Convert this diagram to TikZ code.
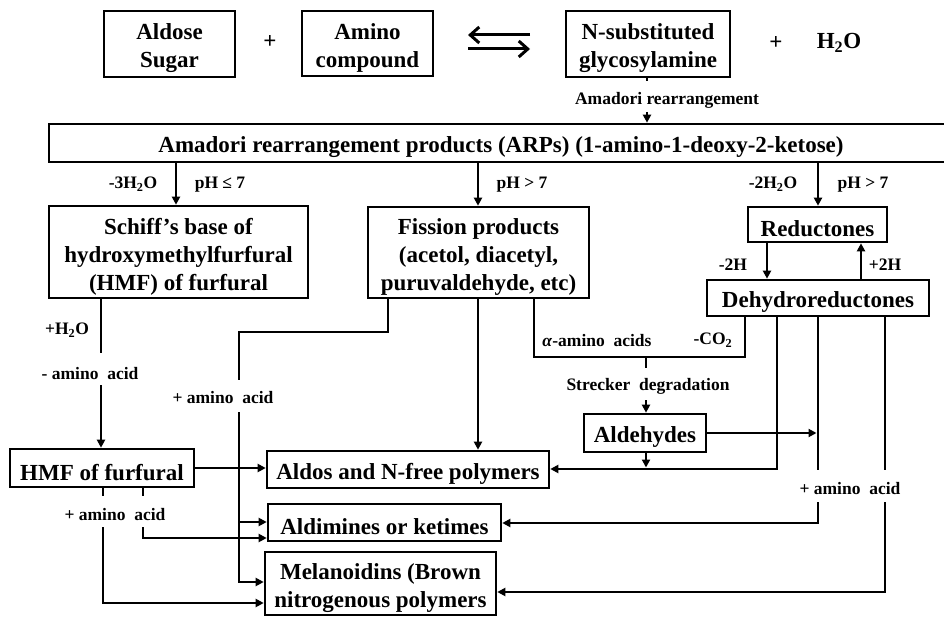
\documentclass[tikz,border=0pt]{standalone}
\usepackage{fontspec}
\setmainfont{Liberation Serif}
\usetikzlibrary{arrows.meta}
\begin{document}
\begin{tikzpicture}[x=1pt,y=-1pt,
  box/.style={draw, line width=2.6pt, inner sep=0pt},
  boxtxt/.style={align=center, inner sep=0pt, yshift=-4.5pt, font=\bfseries\fontsize{23}{28}\selectfont},
  lbl/.style={inner sep=0pt, yshift=-1.5pt, font=\bfseries\fontsize{17.5}{20}\selectfont},
  big/.style={inner sep=0pt, font=\bfseries\fontsize{23}{28}\selectfont},
  ln/.style={line width=2.6pt},
  arr/.style={line width=2.6pt, -{Triangle[length=8pt,width=8pt]}},
  eqa/.style={line width=3pt, -{Straight Barb[length=9pt,width=16pt]}}]
\clip (0,0) rectangle (944,617);
\fill[white] (0,0) rectangle (944,617);

% top row
\node[box, minimum width=131pt, minimum height=66pt, label={[boxtxt]center:{Aldose\\Sugar}}] (aldose) at (169.5,44) {};
\node[big] (plus1) at (270,42) {+};
\node[box, minimum width=131pt, minimum height=65pt, label={[boxtxt]center:{Amino\\compound}}] (amino) at (367.5,43.5) {};
\node[box, minimum width=164pt, minimum height=66pt, label={[boxtxt]center:{N-substituted\\glycosylamine}}] (nsub) at (648,44) {};
\node[big] (plus2) at (776,43) {+};
\node[big] (h2o) at (839,43) {H\textsubscript{2}O};
\coordinate (e1a) at (530,35); \coordinate (e1b) at (468,35);
\coordinate (e2a) at (468,49); \coordinate (e2b) at (530,49);
\draw[eqa] (e1a) -- (e1b);
\draw[eqa] (e2a) -- (e2b);

\node[lbl] (amlbl) at (667,99) {Amadori rearrangement};
\node[box, minimum width=904pt, minimum height=38pt, label={[boxtxt]center:{Amadori rearrangement products (ARPs) (1-amino-1-deoxy-2-ketose)}}] (arp) at (501,143) {};
\draw[ln] (nsub.south -| 647,0) -- (647,81);
\draw[arr] (647,112) -- (arp.north -| 647,0);

% second row labels
\node[lbl] (l3h) at (133,183) {-3H\textsubscript{2}O};
\node[lbl] (lph1) at (220,183) {pH ≤ 7};
\node[lbl] (lph2) at (522,183) {pH > 7};
\node[lbl] (l2h) at (773,183) {-2H\textsubscript{2}O};
\node[lbl] (lph3) at (863,183) {pH > 7};

\node[box, minimum width=259pt, minimum height=92pt, label={[boxtxt]center:{Schiff’s base of\\hydroxymethylfurfural\\(HMF) of furfural}}] (schiff) at (178.5,252) {};
\node[box, minimum width=221pt, minimum height=91pt, label={[boxtxt]center:{Fission products\\(acetol, diacetyl,\\puruvaldehyde, etc)}}] (fission) at (478.5,252.5) {};
\node[box, minimum width=139pt, minimum height=35pt, label={[boxtxt]center:{Reductones}}] (reduct) at (817.5,224.5) {};
\node[box, minimum width=222pt, minimum height=36pt, label={[boxtxt]center:{Dehydroreductones}}] (dehyd) at (818,298) {};

\draw[arr] (arp.south -| 176,0) -- (schiff.north -| 176,0);
\draw[arr] (arp.south -| 478,0) -- (fission.north -| 478,0);
\draw[arr] (arp.south -| 818,0) -- (reduct.north -| 818,0);

\draw[arr] (reduct.south -| 767,0) -- (dehyd.north -| 767,0);
\draw[arr] (dehyd.north -| 861,0) -- (reduct.south -| 861,0);
\node[lbl] (lm2h) at (733,263) {-2H};
\node[lbl] (lp2h) at (885,263) {+2H};

% lower boxes
\node[box, minimum width=184pt, minimum height=38pt, label={[boxtxt]center:{HMF of furfural}}] (hmf) at (102,468) {};
\node[box, minimum width=282pt, minimum height=37pt, label={[boxtxt]center:{Aldos and N-free polymers}}] (aldos) at (408,469.5) {};
\node[box, minimum width=233pt, minimum height=37pt, label={[boxtxt]center:{Aldimines or ketimes}}] (aldim) at (384.5,522.5) {};
\node[box, minimum width=231pt, minimum height=63pt, label={[boxtxt]center:{Melanoidins (Brown\\nitrogenous polymers}}] (melan) at (380.5,583.5) {};
\node[box, minimum width=122pt, minimum height=38pt, label={[boxtxt]center:{Aldehydes}}] (aldeh) at (645,433) {};

% Schiff -> HMF
\draw[ln] (schiff.south -| 101,0) -- (101,353);
\node[lbl] (lph2o) at (67,329) {+H\textsubscript{2}O};
\node[lbl] (lmaa) at (90,372) {- amino\ \ acid};
\draw[arr] (101,385) -- (hmf.north -| 101,0);
\draw[arr] (hmf.east) -- (hmf.east -| aldos.west);

% Fission left branch
\draw[ln] (fission.south -| 388,0) |- (239,332) -- (239,380);
\node[lbl] (laa1) at (223,396) {+ amino\ \ acid};
\draw[arr] (239,412) |- (melan.west |- 0,582);
\draw[arr] (239,522) -- (aldim.west |- 0,522);

% Fission centre
\draw[arr] (fission.south -| 478,0) -- (aldos.north -| 478,0);

% Fission right / Strecker
\draw[ln] (fission.south -| 534,0) |- (745,357) -- (dehyd.south -| 745,0);
\node[lbl] (lalpha) at (597,339) {\textit{α}-amino\ \ acids};
\node[lbl] (lco2) at (713,339) {-CO\textsubscript{2}};
\draw[ln] (646,357) -- (646,368);
\node[lbl] (lstr) at (648,385) {Strecker\ \ degradation};
\draw[arr] (646,400) -- (aldeh.north -| 646,0);
\draw[arr] (aldeh.east) -- (816.5,433);
\draw[arr] (aldeh.south -| 646,0) -- (646,467.5);

% Dehydroreductones branches
\draw[arr] (dehyd.south -| 777,0) |- (aldos.east |- 0,469);
\draw[ln] (dehyd.south -| 818,0) -- (818,470);
\node[lbl] (laa2) at (850,487) {+ amino\ \ acid};
\draw[arr] (818,502) |- (aldim.east |- 0,523);
\draw[ln] (dehyd.south -| 885,0) -- (885,470);
\draw[arr] (885,502) |- (melan.east |- 0,592);

% HMF branches
\draw[ln] (hmf.south -| 103,0) -- (103,496);
\draw[ln] (hmf.south -| 143,0) -- (143,496);
\node[lbl] (laa3) at (115,513) {+ amino\ \ acid};
\draw[arr] (143,527) |- (aldim.west |- 0,538);
\draw[arr] (103,527) |- (melan.west |- 0,603);
\end{tikzpicture}
\end{document}
